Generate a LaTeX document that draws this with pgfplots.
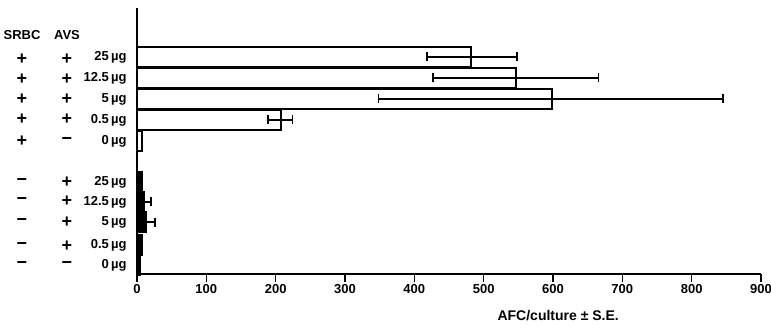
\documentclass[border=0pt]{standalone}
\usepackage{pgfplots}
\pgfplotsset{compat=1.18}
\usepackage{fontspec}
\setmainfont{Liberation Sans}
\begin{document}
\begin{tikzpicture}[x=1pt,y=1pt]
\path[use as bounding box] (0,0) rectangle (771,-331);
\begin{axis}[
  at={(137pt,-274pt)}, anchor=south west,
  scale only axis, width=624pt, height=266pt,
  xmin=0, xmax=900, ymin=-274, ymax=-8,
  axis x line=bottom, axis y line=left,
  axis line style={line width=2.2pt,-},
  xtick={0,100,...,900},
  xtick align=outside, major tick length=8pt,
  x tick style={line width=1.6pt, black},
  ytick={-57,-78,-99,-120,-141,-182,-202,-222,-245,-265},
  yticklabels={25\,µg,12.5\,µg,5\,µg,0.5\,µg,0\,µg,25\,µg,12.5\,µg,5\,µg,0.5\,µg,0\,µg},
  y tick style={draw=none},
  yticklabel style={xshift=1pt, font=\bfseries\fontsize{13}{15}\selectfont},
  xticklabel style={font=\bfseries\fontsize{13}{15}\selectfont, yshift=1pt},
  /pgf/number format/assume math mode=true,
  xlabel={AFC/culture ± S.E.},
  xlabel style={font=\bfseries\fontsize{14}{16}\selectfont, at={(axis description cs:0.675,0)}, anchor=center, yshift=-42pt},
  clip=false,
  xbar, bar width=20.5, bar shift=0pt,
]
\addplot[draw=black, fill=white, line width=1.8pt,
  error bars/.cd, x dir=both, x explicit, error mark=|,
  error bar style={line width=1.4pt, black},
  error mark options={line width=1.4pt, mark size=4.5pt, black}]
coordinates {
  (482,-57) += (66,0) -= (64,0)
  (547,-78) += (119,0) -= (120,0)
  (598,-99) += (247,0) -= (250,0)
  (208,-120) += (16,0) -= (19,0)
};
\addplot[draw=black, fill=white, line width=1.8pt]
coordinates {
  (7,-141)
};
\addplot[draw=black, fill=black, line width=1.8pt,
  error bars/.cd, x dir=both, x explicit, error mark=|,
  error bar style={line width=1.4pt, black},
  error mark options={line width=1.4pt, mark size=4.5pt, black}]
coordinates {
  (10,-202) += (10,0) -= (5,0)
  (13,-222) += (13,0) -= (6,0)
};
\addplot[draw=black, fill=black, line width=1.8pt]
coordinates {
  (8,-182)
  (7,-245)
  (5,-265)
};
\end{axis}
\begin{scope}[every node/.style={font=\bfseries\fontsize{13}{15}\selectfont}]
\node at (22,-35) {SRBC};
\node at (67,-35) {AVS};
\end{scope}
\begin{scope}[every node/.style={font=\bfseries\fontsize{18}{18}\selectfont, inner sep=0pt}]
\foreach \y in {59,79,99,119,141} \node at (22,-\y) {+};
\foreach \y in {59,79,99,119} \node at (67,-\y) {+};
\node at (67,-141) {−};
\foreach \y in {182,201,222,246,265} \node at (22,-\y) {−};
\foreach \y in {182,201,222,246} \node at (67,-\y) {+};
\node at (67,-265) {−};
\end{scope}
\end{tikzpicture}
\end{document}
